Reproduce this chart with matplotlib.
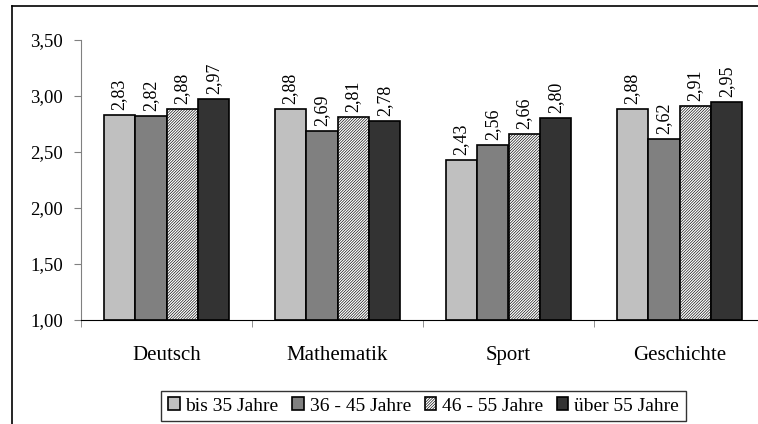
import numpy as np
import matplotlib
matplotlib.use('Agg')
import matplotlib.pyplot as plt
from matplotlib.lines import Line2D

plt.rcParams['font.family'] = ['Liberation Serif', 'DejaVu Serif']
plt.rcParams['hatch.linewidth'] = 0.45

categories = ['Deutsch', 'Mathematik', 'Sport', 'Geschichte']
groups = ['bis 35 Jahre', '36 - 45 Jahre', '46 - 55 Jahre', 'über 55 Jahre']
values = [
    [2.83, 2.88, 2.43, 2.88],   # bis 35
    [2.82, 2.69, 2.56, 2.62],   # 36 - 45
    [2.88, 2.81, 2.66, 2.91],   # 46 - 55
    [2.97, 2.78, 2.80, 2.95],   # über 55
]
y_ticks = [1.0, 1.5, 2.0, 2.5, 3.0, 3.5]

colors = ['#c0c0c0', '#808080', 'white', '#333333']
hatches = [None, None, '/' * 12, None]

fig = plt.figure(figsize=(7.58, 4.24), dpi=100)
# axes spans a bit past the right edge, as in the cropped original
ax = fig.add_axes([81 / 758, 1 - 320 / 424, 684 / 758, 280 / 424])

x = np.arange(len(categories))
w = 0.184
for i in range(4):
    pos = x + (i - 1.5) * w
    ax.bar(pos, np.array(values[i]) - 1.0, w, bottom=1.0, color=colors[i],
           edgecolor='black', linewidth=1.2, hatch=hatches[i], label=groups[i])
    for p, v in zip(pos, values[i]):
        ax.text(p, v + 0.045, f'{v:.2f}'.replace('.', ','), rotation=90,
                ha='center', va='bottom', fontsize=13)

ax.set_xlim(-0.5, len(categories) - 0.5)
ax.set_ylim(1.0, 3.5)
ax.set_yticks(y_ticks)
ax.set_yticklabels([f'{t:.2f}'.replace('.', ',') for t in y_ticks], fontsize=13.5)
ax.set_xticks(x)
ax.set_xticklabels(categories, fontsize=15)
ax.tick_params(axis='x', length=0, pad=19)
ax.set_xticks(np.arange(len(categories) + 1) - 0.5, minor=True)
ax.tick_params(axis='x', which='minor', length=5, color='#808080')
ax.tick_params(axis='y', length=5, color='#808080', pad=8)
for s in ['top', 'right']:
    ax.spines[s].set_visible(False)
ax.spines['left'].set_color('#808080')
ax.spines['bottom'].set_color('black')

leg = ax.legend(loc='center', bbox_to_anchor=(423.5 / 758, 1 - 406 / 424),
                bbox_transform=fig.transFigure, ncol=4, fontsize=14,
                frameon=True, fancybox=False, edgecolor='black',
                handlelength=0.6, handleheight=0.6, handletextpad=0.3,
                columnspacing=0.7, borderpad=0.35)
leg.get_frame().set_linewidth(1.0)

# outer frame of the chart area (cropped)
fig.add_artist(Line2D([12 / 758, 12 / 758], [0, 1 - 6 / 424], color='black', lw=1.2,
                      transform=fig.transFigure))
fig.add_artist(Line2D([12 / 758, 1], [1 - 6 / 424, 1 - 6 / 424], color='black', lw=1.2,
                      transform=fig.transFigure))

fig.savefig('out.png', dpi=100)
